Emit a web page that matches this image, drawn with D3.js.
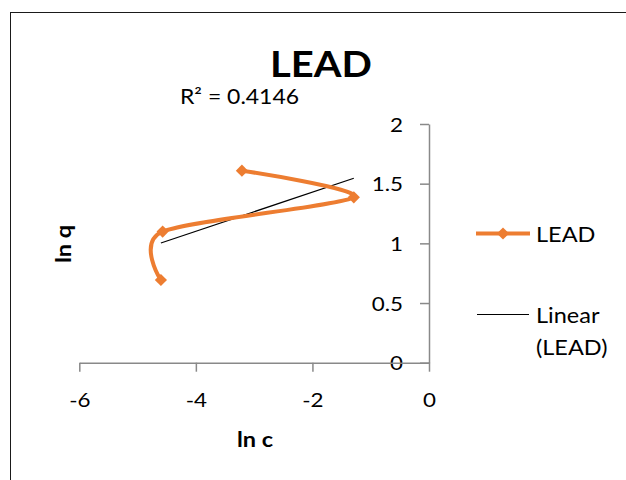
<!DOCTYPE html>
<html>
<head>
<meta charset="utf-8">
<script src="https://cdn.jsdelivr.net/npm/d3@7"></script>
<style>
  html, body { margin: 0; padding: 0; background: #fff; }
  svg { display: block; font-family: Lato, "Open Sans", sans-serif; }
</style>
</head>
<body>
<svg id="chart" width="626" height="480"></svg>
<script>
// Series: ln c (x) vs ln q (y) for lead adsorption
const lnC = [-4.60, -4.57, -1.29, -3.21];
const lnQ = [0.693, 1.099, 1.386, 1.609];

const xTicks = [-6, -4, -2, 0];
const xTickLabels = ["-6", "-4", "-2", "0"];
const yTicks = [0, 0.5, 1, 1.5, 2];
const yTickLabels = ["0", "0.5", "1", "1.5", "2"];

const chartTitle = "LEAD";
const seriesName = "LEAD";
const trendName = ["Linear", "(LEAD)"];
const r2Label = "R² = 0.4146";
const xTitle = "ln c";
const yTitle = "ln q";

const orange = "#ED7D31";
const axisGray = "#898989";
const SX = 1.12; // horizontal widening applied to every text run

const svg = d3.select("#chart");

// Places a text run at (x, y) with optional rotation and horizontal widening
function label(parent, txt, x, y, opts = {}) {
  const rot = opts.rotate ? ` rotate(${opts.rotate})` : "";
  return parent.append("text")
    .attr("transform", `translate(${x},${y})${rot} scale(${opts.sx || SX},1)`)
    .attr("text-anchor", opts.anchor || "start")
    .style("font-size", (opts.size || 20) + "px")
    .style("font-weight", opts.bold ? "bold" : "normal")
    .attr("fill", "#000")
    .text(txt);
}

// Chart area frame
svg.append("rect")
  .attr("x", 10.5).attr("y", 12.5)
  .attr("width", 700).attr("height", 600)
  .attr("fill", "#fff")
  .attr("stroke", "#1a1a1a").attr("stroke-width", 1);

const x = d3.scaleLinear().domain([-6, 0]).range([79.3, 429]);
const y = d3.scaleLinear().domain([0, 2]).range([362.7, 124]);

// Y axis sits at x = 0
const yAxis = svg.append("g")
  .attr("transform", `translate(${x(0)},0)`)
  .call(d3.axisLeft(y).tickValues(yTicks)
    .tickFormat((d, i) => yTickLabels[i])
    .tickSize(9).tickSizeOuter(0));

// X axis sits at y = 0
const xAxis = svg.append("g")
  .attr("transform", `translate(0,${y(0)})`)
  .call(d3.axisBottom(x).tickValues(xTicks)
    .tickFormat((d, i) => xTickLabels[i])
    .tickSize(9).tickSizeOuter(0));

[yAxis, xAxis].forEach(g => {
  g.select(".domain").attr("stroke", axisGray).attr("stroke-width", 1.5);
  g.selectAll(".tick line").attr("stroke", axisGray).attr("stroke-width", 1.5);
  g.selectAll(".tick text")
    .attr("fill", "#000")
    .attr("x", null).attr("y", null).attr("dy", null)
    .style("font-size", "20px")
    .style("font-family", "Lato, sans-serif");
});
yAxis.selectAll(".tick text")
  .attr("text-anchor", "end")
  .attr("transform", `translate(-26,7.2) scale(${SX},1)`);
xAxis.selectAll(".tick text")
  .attr("text-anchor", "middle")
  .attr("transform", `translate(0,44) scale(${SX},1)`);

// Least-squares trendline over the data range
const n = lnC.length;
const mx = d3.mean(lnC), my = d3.mean(lnQ);
let sxy = 0, sxx = 0;
for (let i = 0; i < n; i++) {
  sxy += (lnC[i] - mx) * (lnQ[i] - my);
  sxx += (lnC[i] - mx) ** 2;
}
const slope = sxy / sxx;
const intercept = my - slope * mx;
const [xMin, xMax] = d3.extent(lnC);

svg.append("line")
  .attr("x1", x(xMin)).attr("y1", y(intercept + slope * xMin))
  .attr("x2", x(xMax)).attr("y2", y(intercept + slope * xMax))
  .attr("stroke", "#000").attr("stroke-width", 1.2);

// Smoothed series line
const pts = lnC.map((c, i) => [c, lnQ[i]]);
const line = d3.line()
  .x(d => x(d[0])).y(d => y(d[1]))
  .curve(d3.curveCardinal.tension(0.2));

svg.append("path")
  .datum(pts)
  .attr("d", line)
  .attr("fill", "none")
  .attr("stroke", orange)
  .attr("stroke-width", 4)
  .attr("stroke-linejoin", "round")
  .attr("stroke-linecap", "round");

const diamond = d3.symbol().type(d3.symbolDiamond2).size(95);
svg.selectAll(".pt")
  .data(pts)
  .join("path")
  .attr("class", "pt")
  .attr("transform", d => `translate(${x(d[0])},${y(d[1])})`)
  .attr("d", diamond)
  .attr("fill", orange);

// Title and equation label
label(svg, chartTitle, 321, 77, { size: 37, bold: true, anchor: "middle", sx: 1.08 });
label(svg, r2Label, 180, 104, { size: 20.5 });

// Axis titles
label(svg, xTitle, 255, 447, { size: 21, bold: true, anchor: "middle" });
label(svg, yTitle, 70.5, 244, { size: 21, bold: true, anchor: "middle", rotate: -90 });

// Legend
const lg = svg.append("g");
lg.append("line")
  .attr("x1", 476).attr("x2", 530).attr("y1", 233.5).attr("y2", 233.5)
  .attr("stroke", orange).attr("stroke-width", 4);
lg.append("path")
  .attr("transform", "translate(503,233.5)")
  .attr("d", diamond)
  .attr("fill", orange);
label(lg, seriesName, 536, 241.5, { size: 21 });

lg.append("line")
  .attr("x1", 477).attr("x2", 529).attr("y1", 314.5).attr("y2", 314.5)
  .attr("stroke", "#000").attr("stroke-width", 1.2);
trendName.forEach((t, i) => label(lg, t, 536, 322.5 + i * 32.5, { size: 21 }));
</script>
</body>
</html>
